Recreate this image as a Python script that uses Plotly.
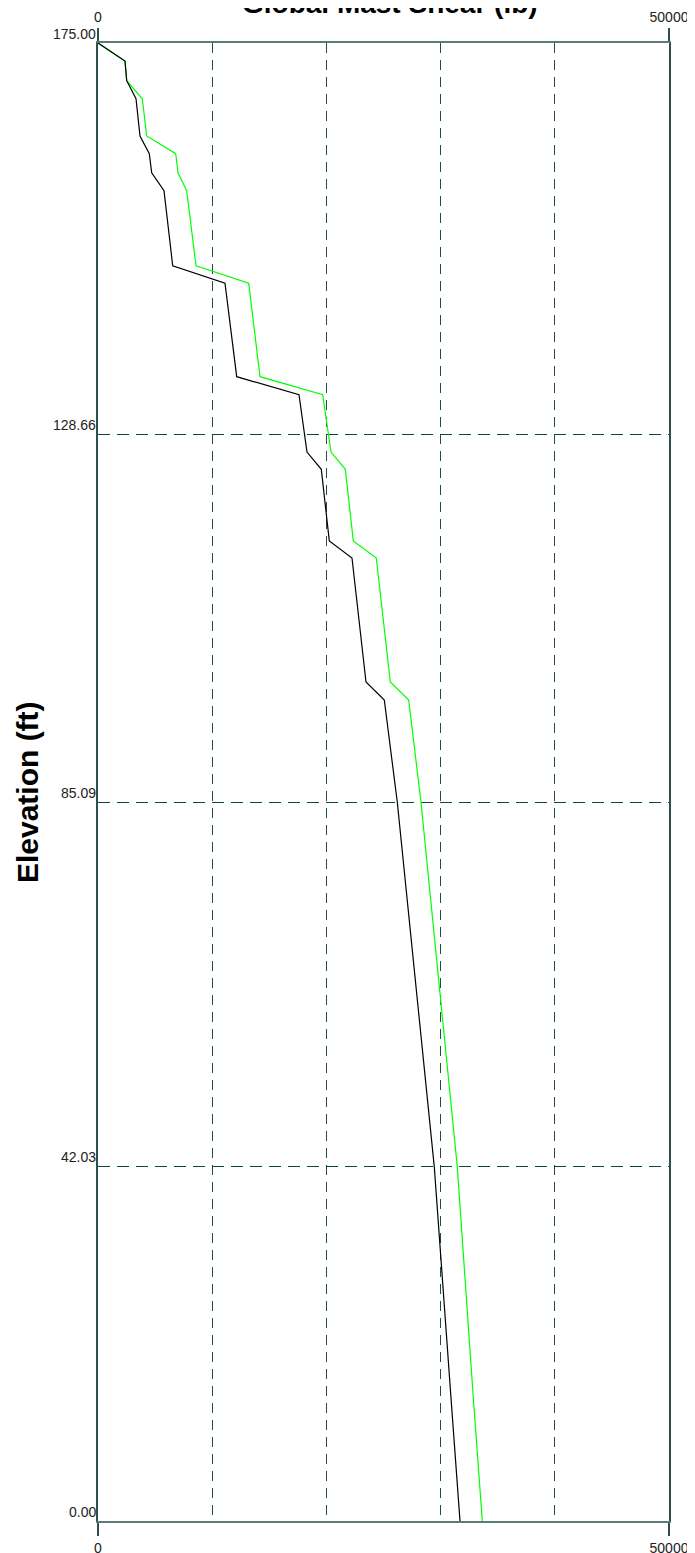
import plotly.graph_objects as go

# ---- data ----
ELEVATION = [175.00, 172.87, 170.54, 168.40, 163.99, 161.90, 159.64, 157.51,
             148.63, 146.55, 135.49, 133.36, 126.57, 124.52, 116.05, 114.02,
             99.34, 97.21, 85.10, 69.03, 41.90, 14.56, 0.00]
SHEAR_BLACK = [0, 2364, 2513, 3328, 3678, 4492, 4702, 5779,
               6541, 11121, 12146, 17601, 18301, 19554, 20254, 22242,
               23468, 25070, 26209, 27408, 29449, 30911, 31699]
SHEAR_GREEN = [0, 2364, 2513, 3879, 4265, 6804, 7005, 7767,
               8581, 13196, 14186, 19677, 20403, 21656, 22356, 24370,
               25596, 27207, 28284, 29484, 31463, 32864, 33652]

X_RANGE = [0, 50000]
X_TICKS = [0, 50000]
X_GRID = [10000, 20000, 30000, 40000]
Y_RANGE = [0, 175]
Y_MARKS = [175.00, 128.66, 85.09, 42.03, 0.00]

TITLE = "Global Mast Shear (lb)"
Y_TITLE = "Elevation (ft)"

FONT = "Liberation Sans, Arial, sans-serif"
W, H = 695, 1553
# page body adds an 8px offset; margins compensate for it
ML, MR, MT, MB = 90, 34, 35, 40

fig = go.Figure()
fig.add_trace(go.Scatter(x=SHEAR_GREEN, y=ELEVATION, mode="lines",
                         line=dict(color="#00FF00", width=1.2), showlegend=False))
fig.add_trace(go.Scatter(x=SHEAR_BLACK, y=ELEVATION, mode="lines",
                         line=dict(color="#000000", width=1.2), showlegend=False))
# invisible trace to activate the top axis
fig.add_trace(go.Scatter(x=[X_RANGE[0]], y=[Y_RANGE[0]], xaxis="x2", mode="markers",
                         marker=dict(opacity=0), showlegend=False, hoverinfo="skip"))

axis_common = dict(
    range=X_RANGE, tickvals=X_TICKS, ticktext=[str(v) for v in X_TICKS],
    ticks="outside", ticklen=13, tickwidth=2, tickcolor="#2F4F4F",
    tickfont=dict(family=FONT, size=14, color="#222222"),
    showgrid=False, zeroline=False, showline=True, linecolor="#5B7B7B", linewidth=2,
    automargin=False,
)

fig.update_layout(
    width=W, height=H, autosize=False,
    margin=dict(l=ML, r=MR, t=MT, b=MB, pad=0, autoexpand=False),
    paper_bgcolor="white", plot_bgcolor="white",
    xaxis=dict(**axis_common, side="bottom", anchor="y",
               minor=dict(tickvals=X_GRID, showgrid=True, gridcolor="#1E4B4B",
                          griddash="10px,7px", gridwidth=1.2, ticks="")),
    xaxis2=dict(**axis_common, side="top", anchor="y", overlaying="x"),
    yaxis=dict(range=Y_RANGE, tickvals=Y_MARKS, showticklabels=False, ticks="",
               showgrid=True, gridcolor="#0B4545", griddash="12px,7px", gridwidth=1.2,
               zeroline=False, showline=True, mirror=True, linecolor="#2F4F4F", linewidth=2,
               automargin=False),
    showlegend=False,
)

# elevation labels with red underline
for v in Y_MARKS:
    label = f"{v:.2f}"
    width = sum(7.8 if c.isdigit() else 3.9 for c in label)
    fig.add_annotation(x=X_RANGE[0], y=v, xref="x", yref="y", text=label,
                       showarrow=False, xanchor="right", yanchor="bottom",
                       borderpad=0, xshift=-1,
                       font=dict(family=FONT, size=14, color="#222222"))
    fig.add_shape(type="line", xref="x", yref="y", xsizemode="pixel",
                  xanchor=X_RANGE[0], x0=-width - 1, x1=0, y0=v, y1=v,
                  line=dict(color="red", width=1.5))

# chart title (partially cut off at the top, as in the reference)
fig.add_annotation(x=0.512, y=1, xref="paper", yref="paper", yanchor="bottom",
                   yshift=22, showarrow=False, text=f"<b>{TITLE}</b>",
                   font=dict(family=FONT, size=28, color="#000000"))
# y-axis title
fig.add_annotation(x=-0.1243, y=0.4932, xref="paper", yref="paper",
                   xanchor="center", yanchor="middle", textangle=-90,
                   showarrow=False, text=f"<b>{Y_TITLE}</b>",
                   font=dict(family=FONT, size=30, color="#000000"))

fig.write_html("out.html")
